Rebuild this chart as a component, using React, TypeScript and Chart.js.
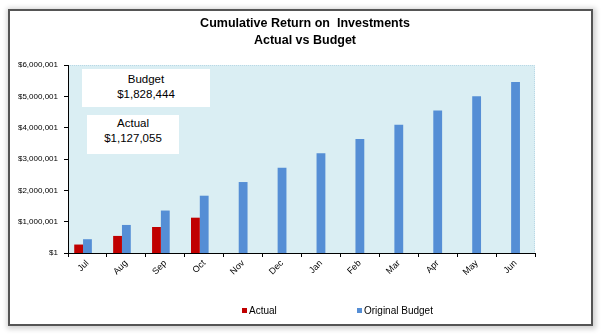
import React, { useEffect, useRef } from "react";
import { Chart, registerables } from "chart.js";

Chart.register(...registerables);

const months = ["Jul", "Aug", "Sep", "Oct", "Nov", "Dec", "Jan", "Feb", "Mar", "Apr", "May", "Jun"];
const actualValues: (number | null)[] = [270000, 545000, 830000, 1127055, null, null, null, null, null, null, null, null];
const budgetValues: number[] = [440000, 895000, 1355000, 1828444, 2265000, 2720000, 3180000, 3635000, 4090000, 4550000, 5000000, 5460000];
const revisedValues: (number | null)[] = [null, null, null, null, null, null, null, null, null, null, null, null];
const yTickValues: number[] = [1, 1000001, 2000001, 3000001, 4000001, 5000001, 6000001];

const titleLines = ["Cumulative Return on  Investments", "Actual vs Budget"];
const FONT = "'Liberation Sans', Arial, sans-serif";

const fmtMoney = (v: number) => "$" + Math.round(v).toLocaleString("en-US");

const lastActualIndex = actualValues.reduce((acc: number, v, i) => (v != null ? i : acc), -1);
const currentActual = actualValues[lastActualIndex] as number;
const currentBudget = budgetValues[lastActualIndex];

const plotBg = {
  id: "plotBg",
  beforeDraw(chart: any) {
    const { ctx, chartArea } = chart;
    const { left, top, right, bottom } = chartArea;
    ctx.save();
    ctx.fillStyle = "#DAEEF3";
    ctx.fillRect(left, top, right - left, bottom - top);
    ctx.strokeStyle = "#B9D8E6";
    ctx.lineWidth = 1;
    ctx.setLineDash([1, 1]);
    ctx.beginPath();
    ctx.moveTo(left, top + 0.5);
    ctx.lineTo(right - 0.5, top + 0.5);
    ctx.lineTo(right - 0.5, bottom);
    ctx.stroke();
    ctx.restore();
  },
};

export default function App() {
  const canvasRef = useRef<HTMLCanvasElement | null>(null);

  useEffect(() => {
    const canvas = canvasRef.current;
    if (!canvas) return;
    const chart = new Chart(canvas, {
      type: "bar",
      data: {
        labels: months,
        datasets: [
          { label: "Actual", data: actualValues, backgroundColor: "#C00000", borderWidth: 0 },
          { label: "Original Budget", data: budgetValues, backgroundColor: "#558ED5", borderWidth: 0 },
          { label: "Revised Budget", data: revisedValues, backgroundColor: "#9BBB59", borderWidth: 0 },
        ],
      },
      options: {
        responsive: false,
        devicePixelRatio: 1,
        animation: false,
        layout: { padding: { top: 65, left: 10, right: 67, bottom: 43 } },
        datasets: { bar: { categoryPercentage: 0.68, barPercentage: 1.0 } },
        plugins: {
          legend: { display: false },
          title: { display: false },
          tooltip: { enabled: false },
        },
        scales: {
          x: {
            offset: true,
            grid: { display: true, offset: true, drawOnChartArea: false, drawTicks: true, tickLength: 4, color: "#000" },
            border: { display: true, color: "#000", width: 1 },
            ticks: {
              color: "#000",
              font: { family: FONT, size: 9 },
              minRotation: 45,
              maxRotation: 45,
              padding: 1,
              autoSkip: false,
            },
            afterFit(scale: any) {
              scale.height = 40;
            },
          },
          y: {
            min: 1,
            max: 6000001,
            grid: { display: true, drawOnChartArea: false, drawTicks: true, tickLength: 4, color: "#000" },
            border: { display: true, color: "#000", width: 1 },
            ticks: {
              color: "#000",
              font: { family: FONT, size: 8 },
              padding: 6,
              callback: (v: any) => fmtMoney(Number(v)),
            },
            afterBuildTicks(scale: any) {
              scale.ticks = yTickValues.map((v) => ({ value: v }));
            },
            afterFit(scale: any) {
              scale.width = 58;
            },
          },
        },
      },
      plugins: [plotBg],
    });
    return () => chart.destroy();
  }, []);

  const text: React.CSSProperties = { position: "absolute", fontFamily: FONT, color: "#000", whiteSpace: "nowrap" };

  return (
    <div style={{ position: "fixed", left: 0, top: 0, width: 602, height: 336, background: "#fff", overflow: "hidden" }}>
      <div
        style={{
          position: "absolute",
          left: 8,
          top: 9,
          width: 585,
          height: 317,
          boxSizing: "border-box",
          border: "2px solid #555",
          background: "#fff",
          boxShadow: "1px 1px 5px 2px rgba(0,0,0,0.18)",
        }}
      />
      <canvas ref={canvasRef} width={602} height={336} style={{ position: "absolute", left: 0, top: 0, width: 602, height: 336 }} />
      <div style={{ ...text, left: 150, width: 310, top: 15, textAlign: "center", fontWeight: "bold", fontSize: 12.5, lineHeight: "17px" }}>
        {titleLines.map((t, i) => (
          <div key={i} style={{ whiteSpace: "pre" }}>{t}</div>
        ))}
      </div>
      <div style={{ ...text, left: 82, top: 69, width: 128, height: 38, background: "#fff", textAlign: "center", fontSize: 11.5, lineHeight: "15px", paddingTop: 3, boxSizing: "border-box" }}>
        <div>Budget</div>
        <div>{fmtMoney(currentBudget)}</div>
      </div>
      <div style={{ ...text, left: 87, top: 115, width: 92, height: 39, background: "#fff", textAlign: "center", fontSize: 11.5, lineHeight: "15px", paddingTop: 1, boxSizing: "border-box" }}>
        <div>Actual</div>
        <div>{fmtMoney(currentActual)}</div>
      </div>
      <div style={{ position: "absolute", left: 242, top: 308, width: 5, height: 5, background: "#C00000" }} />
      <div style={{ ...text, left: 249, top: 304, fontSize: 10, lineHeight: "13px" }}>Actual</div>
      <div style={{ position: "absolute", left: 357, top: 308, width: 5, height: 5, background: "#558ED5" }} />
      <div style={{ ...text, left: 364, top: 304, fontSize: 10, lineHeight: "13px" }}>Original Budget</div>
    </div>
  );
}
